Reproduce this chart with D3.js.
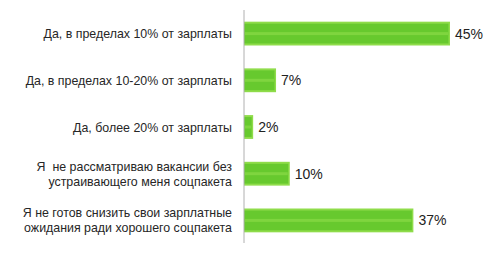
<!DOCTYPE html>
<html>
<head>
<meta charset="utf-8">
<script src="https://cdn.jsdelivr.net/npm/d3@7"></script>
<style>
  body { margin: 0; background: #fff; }
  svg { display: block; }
  text { white-space: pre; }
</style>
</head>
<body>
<div id="chart"></div>
<script>
const categories = [
    ["Да, в пределах 10% от зарплаты"],
    ["Да, в пределах 10-20% от зарплаты"],
    ["Да, более 20% от зарплаты"],
    ["Я  не рассматриваю вакансии без", "устраивающего меня соцпакета"],
    ["Я не готов снизить свои зарплатные", "ожидания ради хорошего соцпакета"]
];
const values = [45, 7, 2, 10, 37];
const valueLabels = ["45%", "7%", "2%", "10%", "37%"];

const width = 486, height = 253;
const x0 = 244;

const svg = d3.select("#chart")
    .append("svg")
    .attr("width", width)
    .attr("height", height);

// x scale: about 4.6 px per percent
const x = d3.scaleLinear()
    .domain([0, 45])
    .range([x0, 450]);

const y = d3.scaleBand()
    .domain(d3.range(values.length))
    .range([10, 244])
    .paddingInner(0.49)
    .paddingOuter(0.25);

const bh = y.bandwidth();

// bars
const bars = svg.append("g");
values.forEach((v, i) => {
    const by = y(i);
    const bw = x(v) - x(0);
    bars.append("rect")
        .attr("x", x(0))
        .attr("y", by)
        .attr("width", bw)
        .attr("height", bh)
        .attr("fill", "#8fdc4a");
    bars.append("rect")
        .attr("x", x(0))
        .attr("y", by + 2)
        .attr("width", Math.max(bw - 1.5, 0))
        .attr("height", bh - 4)
        .attr("fill", "#67c92e");
    // lighter horizontal stripe
    bars.append("rect")
        .attr("x", x(0) + 1)
        .attr("y", by + bh / 2 - 1.5)
        .attr("width", Math.max(bw - 3, 0))
        .attr("height", 3)
        .attr("fill", "#7fd53f");
});

// axis line
svg.append("line")
    .attr("x1", x0)
    .attr("x2", x0)
    .attr("y1", 10)
    .attr("y2", 243)
    .attr("stroke", "#b0b0b0")
    .attr("stroke-width", 1);

// category labels
categories.forEach((lines, i) => {
    const cy = y(i) + bh / 2;
    const t = svg.append("text")
        .attr("x", 232)
        .attr("text-anchor", "end")
        .attr("font-family", "Liberation Sans, Arial, sans-serif")
        .attr("font-size", "12.4px")
        .attr("fill", "#262626");
    const lh = 15;
    lines.forEach((ln, j) => {
        t.append("tspan")
            .attr("x", 232)
            .attr("y", cy + 4.5 + (j - (lines.length - 1) / 2) * lh)
            .text(ln);
    });
});

// value labels
values.forEach((v, i) => {
    svg.append("text")
        .attr("x", x(v) + 5)
        .attr("y", y(i) + bh / 2 + 5)
        .attr("font-family", "Liberation Sans, Arial, sans-serif")
        .attr("font-size", "14px")
        .attr("fill", "#222")
        .text(valueLabels[i]);
});
</script>
</body>
</html>
